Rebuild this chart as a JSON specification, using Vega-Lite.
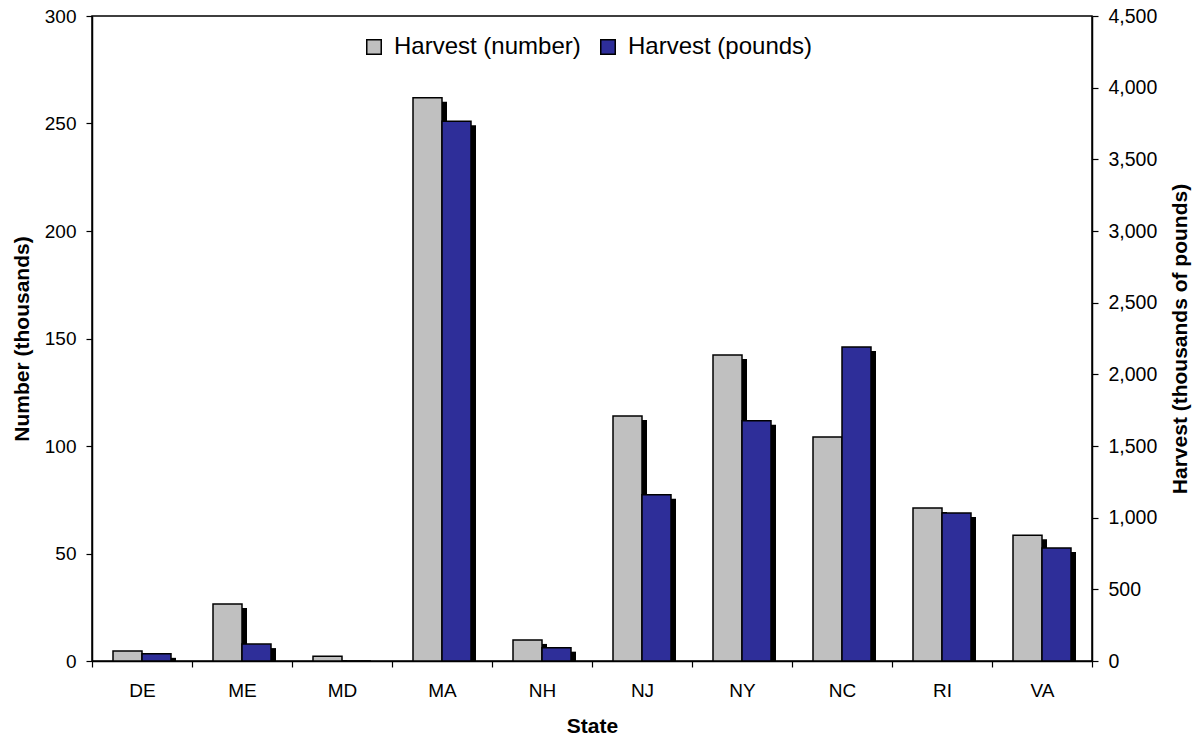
{
  "$schema": "https://vega.github.io/schema/vega-lite/v6.json",
  "width": 1000,
  "height": 645,
  "autosize": {"type": "none"},
  "padding": {"left": 92, "top": 16, "right": 107, "bottom": 81},
  "background": "white",
  "config": {
    "font": "Liberation Sans",
    "view": {"stroke": "black", "strokeWidth": 1.5},
    "axis": {
      "grid": false,
      "domainColor": "black",
      "domainWidth": 1.5,
      "tickColor": "black",
      "tickWidth": 1.2,
      "tickSize": 6,
      "labelColor": "black",
      "labelFontSize": 19,
      "titleColor": "black",
      "titleFontSize": 21,
      "titleFontWeight": "bold",
      "zindex": 1
    }
  },
  "data": {
    "values": [
      {"state": "DE", "number": 4.6, "pounds": 50},
      {"state": "ME", "number": 26.5, "pounds": 118},
      {"state": "MD", "number": 2.2, "pounds": 0},
      {"state": "MA", "number": 262, "pounds": 3765},
      {"state": "NH", "number": 9.8, "pounds": 93},
      {"state": "NJ", "number": 114, "pounds": 1160},
      {"state": "NY", "number": 142.3, "pounds": 1677},
      {"state": "NC", "number": 104.2, "pounds": 2191},
      {"state": "RI", "number": 71.2, "pounds": 1033},
      {"state": "VA", "number": 58.5, "pounds": 788}
    ]
  },
  "encoding": {
    "x": {
      "field": "state",
      "type": "nominal",
      "sort": null,
      "scale": {"paddingInner": 0, "paddingOuter": 0},
      "axis": {
        "title": "State",
        "labelAngle": 0,
        "tickBand": "extent",
        "labelPadding": 14,
        "titlePadding": 15
      }
    }
  },
  "layer": [
    {
      "encoding": {
        "y": {
          "field": "number",
          "type": "quantitative",
          "scale": {"domain": [0, 300], "nice": false},
          "axis": {
            "orient": "left",
            "title": "Number (thousands)",
            "values": [0, 50, 100, 150, 200, 250, 300],
            "labelPadding": 10,
            "titlePadding": 12
          }
        }
      },
      "layer": [
        {
          "mark": {"type": "bar", "width": 29, "xOffset": -9.5, "yOffset": 4, "y2Offset": 0, "color": "black", "clip": true}
        },
        {
          "mark": {"type": "bar", "width": 29, "xOffset": -14.5, "stroke": "black", "strokeWidth": 1.5},
          "encoding": {
            "color": {
              "datum": "Harvest (number)",
              "type": "nominal",
              "scale": {"domain": ["Harvest (number)", "Harvest (pounds)"], "range": ["#c0c0c0", "#2e2e99"]},
              "legend": {
                "orient": "none",
                "legendX": 270,
                "legendY": 19,
                "direction": "horizontal",
                "title": null,
                "symbolType": "square",
                "symbolSize": 210,
                "symbolStrokeColor": "black",
                "symbolStrokeWidth": 1.5,
                "labelFontSize": 24,
                "labelColor": "black",
                "labelLimit": 0,
                "labelOffset": 8,
                "columnPadding": 15,
                "padding": 0
              }
            }
          }
        }
      ]
    },
    {
      "encoding": {
        "y": {
          "field": "pounds",
          "type": "quantitative",
          "scale": {"domain": [0, 4500], "nice": false},
          "axis": {
            "orient": "right",
            "title": "Harvest (thousands of pounds)",
            "format": ",.0f",
            "labelFontSize": 19.5,
            "values": [0, 500, 1000, 1500, 2000, 2500, 3000, 3500, 4000, 4500],
            "labelPadding": 10,
            "titlePadding": 13,
            "titleAngle": 270,
            "titleBaseline": "top"
          }
        }
      },
      "layer": [
        {
          "mark": {"type": "bar", "width": 29, "xOffset": 19.5, "yOffset": 4, "y2Offset": 0, "color": "black", "clip": true}
        },
        {
          "mark": {"type": "bar", "width": 29, "xOffset": 14.5, "stroke": "black", "strokeWidth": 1.5},
          "encoding": {
            "color": {"datum": "Harvest (pounds)", "type": "nominal"}
          }
        }
      ]
    }
  ],
  "resolve": {"scale": {"y": "independent"}}
}
